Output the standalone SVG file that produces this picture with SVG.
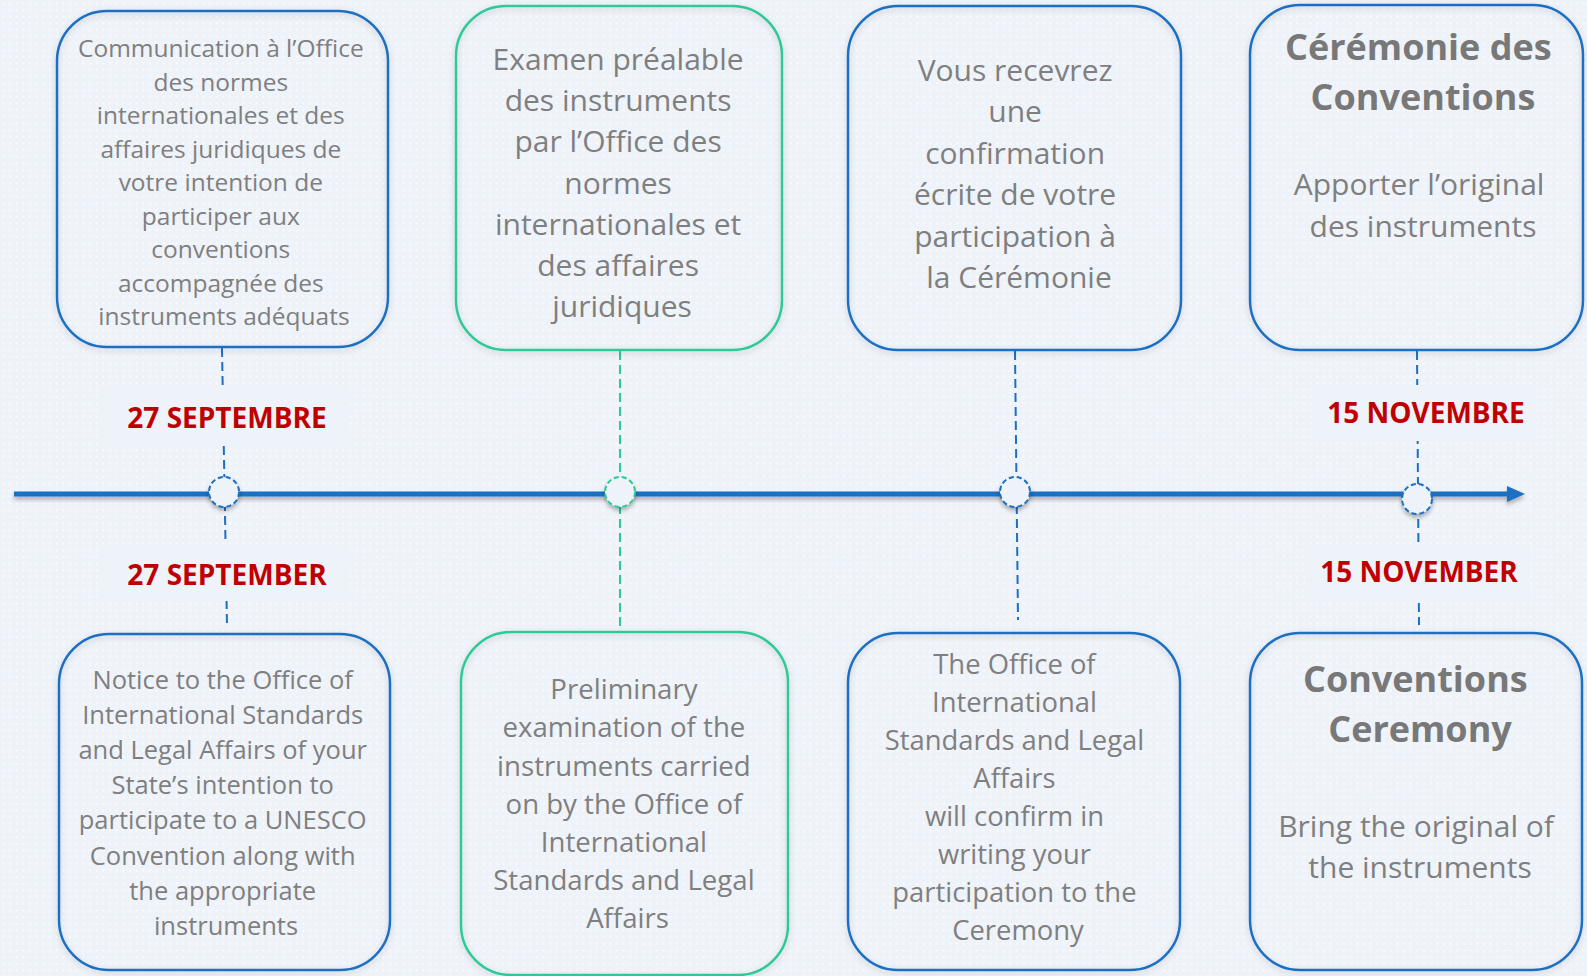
<svg xmlns="http://www.w3.org/2000/svg" width="1587" height="976" viewBox="0 0 1587 976">
<defs>
<pattern id="dots" width="6.67" height="6.67" patternUnits="userSpaceOnUse"><circle cx="3.3" cy="3.3" r="0.9" fill="#ffffff"/></pattern>
<filter id="sh" x="-10%" y="-10%" width="120%" height="120%"><feDropShadow dx="0" dy="2" stdDeviation="3" flood-color="#000" flood-opacity="0.18"/></filter>
<filter id="lsh" filterUnits="userSpaceOnUse" x="0" y="470" width="1587" height="50"><feDropShadow dx="0" dy="3" stdDeviation="2" flood-color="#000" flood-opacity="0.3"/></filter>
<filter id="csh" x="-50%" y="-50%" width="200%" height="200%"><feDropShadow dx="0" dy="3" stdDeviation="2" flood-color="#000" flood-opacity="0.3"/></filter>
<style>
.box{fill:none;stroke:#1c6fc4;stroke-width:2.5;filter:url(#sh)}
.gbox{fill:none;stroke:#2dca96;stroke-width:2.5;filter:url(#sh)}
.t{font-family:"Open Sans","Noto Sans",sans-serif;fill:#7f7f7f;text-anchor:middle}
.b{font-family:"Open Sans","Noto Sans",sans-serif;fill:#787878;font-weight:bold;text-anchor:middle}
.d{font-family:"Open Sans","Noto Sans",sans-serif;fill:#c00000;font-weight:bold;font-size:28px;text-anchor:middle}
.lbg{fill:#eef2f9}
.conn{fill:none;stroke:#1c6fc4;stroke-width:2;stroke-dasharray:9 5}
.gconn{fill:none;stroke:#2dca96;stroke-width:2;stroke-dasharray:9 5}
.dot{fill:#eef2f9;stroke:#1c6fc4;stroke-width:2;stroke-dasharray:5 3;filter:url(#csh)}
.gdot{fill:#eef2f9;stroke:#2dca96;stroke-width:2;stroke-dasharray:5 3;filter:url(#csh)}
</style>
</defs>
<rect x="0" y="0" width="1587" height="976" fill="#eef2f9"/>
<rect x="0" y="0" width="1587" height="976" fill="url(#dots)"/>

<g id="connectors">
<line class="conn" x1="222" y1="348" x2="227" y2="626"/>
<line class="gconn" x1="620" y1="351" x2="620" y2="627"/>
<line class="conn" x1="1015" y1="351" x2="1018" y2="620"/>
<line class="conn" x1="1417" y1="351" x2="1419" y2="625"/>
</g>

<g id="timeline">
<g filter="url(#lsh)">
<rect x="14" y="491.5" width="1496" height="5" fill="#1c6fc4"/>
<polygon points="1507,486 1525,494 1507,502" fill="#1c6fc4"/>
</g>
<circle class="dot" cx="224" cy="492" r="15"/>
<circle class="gdot" cx="620" cy="492" r="15"/>
<circle class="dot" cx="1015" cy="492" r="15"/>
<circle class="dot" cx="1417" cy="499" r="15"/>
</g>

<g id="label-27-septembre">
<rect class="lbg" x="100" y="389" width="250" height="56"/>
<text class="d" x="227" y="428">27 SEPTEMBRE</text>
</g>
<g id="label-27-september">
<rect class="lbg" x="100" y="544" width="250" height="57"/>
<text class="d" x="227" y="585">27 SEPTEMBER</text>
</g>
<g id="label-15-novembre">
<rect class="lbg" x="1317" y="385" width="220" height="56"/>
<text class="d" x="1426" y="423">15 NOVEMBRE</text>
</g>
<g id="label-15-november">
<rect class="lbg" x="1310" y="544" width="220" height="57"/>
<text class="d" x="1419" y="582">15 NOVEMBER</text>
</g>

<g id="box-fr-1">
<rect class="box" x="57" y="11" width="331" height="336" rx="50"/>
<text class="t" font-size="24.5">
<tspan x="224" y="57">Communication à l’Office</tspan>
<tspan x="224" y="90.5">des normes</tspan>
<tspan x="224" y="124">internationales et des</tspan>
<tspan x="224" y="157.5">affaires juridiques de</tspan>
<tspan x="224" y="191">votre intention de</tspan>
<tspan x="224" y="224.5">participer aux</tspan>
<tspan x="224" y="258">conventions</tspan>
<tspan x="224" y="291.5">accompagnée des</tspan>
<tspan x="224" y="325">instruments adéquats</tspan>
</text>
</g>

<g id="box-fr-2">
<rect class="gbox" x="456" y="6" width="326" height="344" rx="50"/>
<text class="t" font-size="30">
<tspan x="622" y="70">Examen préalable</tspan>
<tspan x="622" y="111">des instruments</tspan>
<tspan x="622" y="152">par l’Office des</tspan>
<tspan x="622" y="194">normes</tspan>
<tspan x="622" y="235">internationales et</tspan>
<tspan x="622" y="276">des affaires</tspan>
<tspan x="622" y="317">juridiques</tspan>
</text>
</g>

<g id="box-fr-3">
<rect class="box" x="848" y="6" width="333" height="344" rx="50"/>
<text class="t" font-size="30">
<tspan x="1019" y="81">Vous recevrez</tspan>
<tspan x="1019" y="122">une</tspan>
<tspan x="1019" y="164">confirmation</tspan>
<tspan x="1019" y="205">écrite de votre</tspan>
<tspan x="1019" y="247">participation à</tspan>
<tspan x="1019" y="288">la Cérémonie</tspan>
</text>
</g>

<g id="box-fr-4">
<rect class="box" x="1250" y="5" width="333" height="345" rx="50"/>
<text class="b" font-size="36">
<tspan x="1423" y="60">Cérémonie des</tspan>
<tspan x="1423" y="110">Conventions</tspan>
</text>
<text class="t" font-size="30">
<tspan x="1423" y="195">Apporter l’original</tspan>
<tspan x="1423" y="237">des instruments</tspan>
</text>
</g>

<g id="box-en-1">
<rect class="box" x="59" y="634" width="331" height="336" rx="50"/>
<text class="t" font-size="25.5">
<tspan x="226" y="689">Notice to the Office of</tspan>
<tspan x="226" y="724">International Standards</tspan>
<tspan x="226" y="759">and Legal Affairs of your</tspan>
<tspan x="226" y="794">State’s intention to</tspan>
<tspan x="226" y="829">participate to a UNESCO</tspan>
<tspan x="226" y="865">Convention along with</tspan>
<tspan x="226" y="900">the appropriate</tspan>
<tspan x="226" y="935">instruments</tspan>
</text>
</g>

<g id="box-en-2">
<rect class="gbox" x="461" y="632" width="327" height="343" rx="50"/>
<text class="t" font-size="27.6">
<tspan x="627.5" y="699">Preliminary</tspan>
<tspan x="627.5" y="737">examination of the</tspan>
<tspan x="627.5" y="776">instruments carried</tspan>
<tspan x="627.5" y="814">on by the Office of</tspan>
<tspan x="627.5" y="852">International</tspan>
<tspan x="627.5" y="890">Standards and Legal</tspan>
<tspan x="627.5" y="928">Affairs</tspan>
</text>
</g>

<g id="box-en-3">
<rect class="box" x="848" y="633" width="332" height="337" rx="50"/>
<text class="t" font-size="27.4">
<tspan x="1018" y="674">The Office of</tspan>
<tspan x="1018" y="712">International</tspan>
<tspan x="1018" y="750">Standards and Legal</tspan>
<tspan x="1018" y="788">Affairs</tspan>
<tspan x="1018" y="826">will confirm in</tspan>
<tspan x="1018" y="864">writing your</tspan>
<tspan x="1018" y="902">participation to the</tspan>
<tspan x="1018" y="940">Ceremony</tspan>
</text>
</g>

<g id="box-en-4">
<rect class="box" x="1250" y="633" width="332" height="337" rx="50"/>
<text class="b" font-size="36">
<tspan x="1420" y="692">Conventions</tspan>
<tspan x="1420" y="742">Ceremony</tspan>
</text>
<text class="t" font-size="30">
<tspan x="1420" y="837">Bring the original of</tspan>
<tspan x="1420" y="878">the instruments</tspan>
</text>
</g>
</svg>
